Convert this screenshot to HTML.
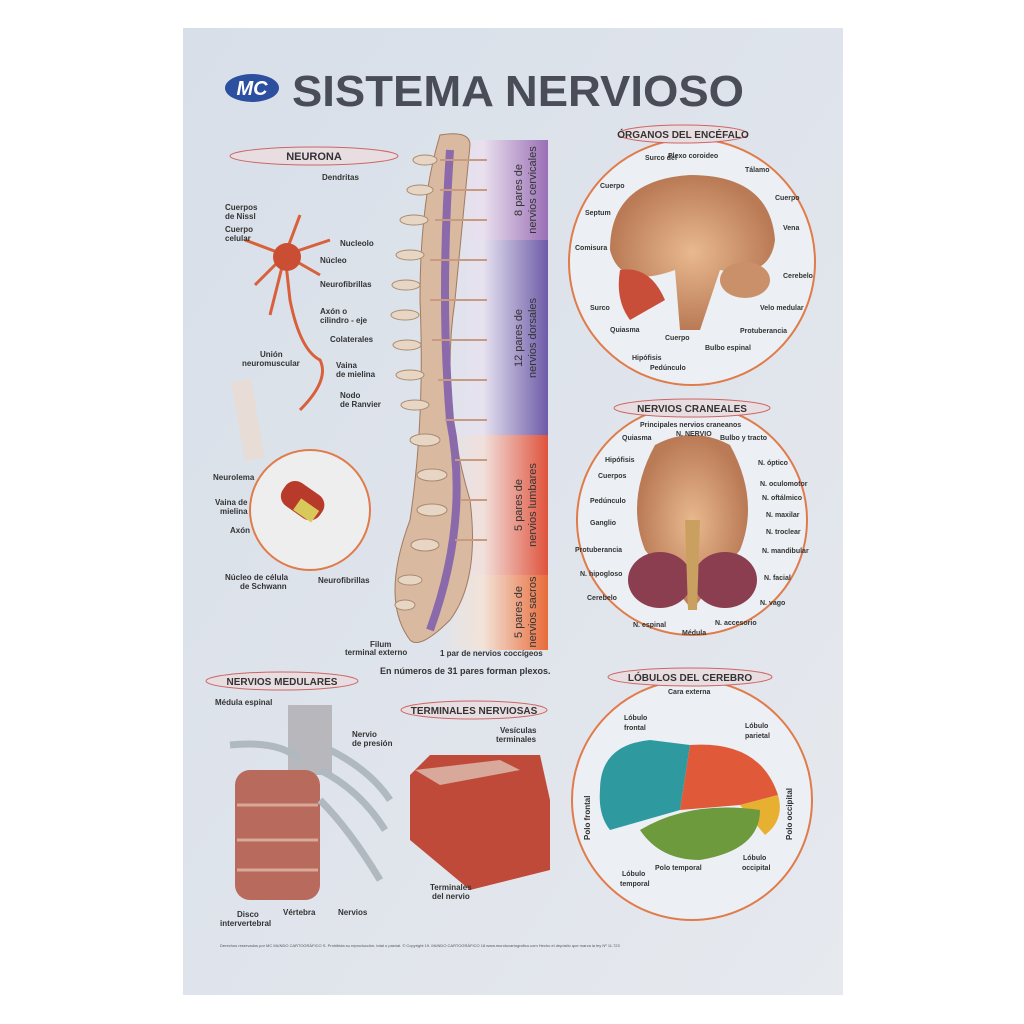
<!DOCTYPE html>
<html><head><meta charset="utf-8"><style>
body{margin:0;width:1024px;height:1024px;background:#fff;overflow:hidden;font-family:"Liberation Sans",sans-serif}
svg{display:block}
</style></head><body>
<svg width="1024" height="1024" viewBox="0 0 1024 1024" font-family="Liberation Sans, sans-serif">
<defs>
<linearGradient id="bg" x1="0" y1="0" x2="1" y2="1"><stop offset="0" stop-color="#d8dfe9"/><stop offset="1" stop-color="#e6e9ee"/></linearGradient>
<linearGradient id="cerv" x1="0" x2="1"><stop offset="0" stop-color="#e9e0ee" stop-opacity="0"/><stop offset=".4" stop-color="#e9e0ee"/><stop offset="1" stop-color="#9a6fb6"/></linearGradient>
<linearGradient id="dors" x1="0" x2="1"><stop offset="0" stop-color="#e6e2ef" stop-opacity="0"/><stop offset=".4" stop-color="#e6e2ef"/><stop offset="1" stop-color="#6d5ba8"/></linearGradient>
<linearGradient id="lumb" x1="0" x2="1"><stop offset="0" stop-color="#f1e0dc" stop-opacity="0"/><stop offset=".4" stop-color="#f1e0dc"/><stop offset="1" stop-color="#e0533c"/></linearGradient>
<linearGradient id="sacr" x1="0" x2="1"><stop offset="0" stop-color="#f2e3d8" stop-opacity="0"/><stop offset=".4" stop-color="#f2e3d8"/><stop offset="1" stop-color="#e86b3a"/></linearGradient>
<radialGradient id="brain" cx=".5" cy=".5" r=".5"><stop offset="0" stop-color="#e9b98e"/><stop offset="1" stop-color="#b97a55"/></radialGradient>
</defs>
<rect x="183" y="28" width="660" height="967" fill="url(#bg)"/>
<!-- logo -->
<ellipse cx="252" cy="88" rx="27" ry="14" fill="#2d4fa0"/>
<text x="252" y="95" font-size="20" font-weight="bold" fill="#fff" text-anchor="middle" font-style="italic">MC</text>
<text x="292" y="106" font-size="44" font-weight="bold" fill="#4a4d57" textLength="452" lengthAdjust="spacingAndGlyphs">SISTEMA NERVIOSO</text>
<!-- neuron -->
<g stroke="#d8603a" stroke-width="3" fill="none">
<path d="M285 255 L245 240 M285 255 L255 285 M285 255 L270 315 M285 255 L300 215 M285 255 L330 240 M285 255 L320 275 M285 255 L290 300 Q300 350 320 360 Q330 380 300 410"/>
</g>
<circle cx="287" cy="257" r="14" fill="#c94e33"/>
<rect x="238" y="380" width="20" height="80" fill="#e8dcd6" transform="rotate(-10 248 420)"/>
<circle cx="310" cy="510" r="60" fill="#eee" stroke="#e07b4a" stroke-width="2"/>
<rect x="280" y="485" width="45" height="28" rx="12" fill="#b83a2a" transform="rotate(35 300 500)"/>
<rect x="300" y="498" width="22" height="14" fill="#d8c95a" transform="rotate(35 300 500)"/>
<g font-size="8" font-weight="bold" fill="#333">
<text x="322" y="180">Dendritas</text><text x="225" y="210">Cuerpos</text><text x="225" y="219">de Nissl</text>
<text x="225" y="232">Cuerpo</text><text x="225" y="241">celular</text><text x="340" y="246">Nucleolo</text>
<text x="320" y="263">Núcleo</text><text x="320" y="287">Neurofibrillas</text><text x="320" y="314">Axón o</text><text x="320" y="323">cilindro - eje</text>
<text x="330" y="342">Colaterales</text><text x="260" y="357">Unión</text><text x="242" y="366">neuromuscular</text>
<text x="336" y="368">Vaina</text><text x="336" y="377">de mielina</text><text x="340" y="398">Nodo</text><text x="340" y="407">de Ranvier</text>
<text x="213" y="480">Neurolema</text><text x="215" y="505">Vaina de</text><text x="220" y="514">mielina</text><text x="230" y="533">Axón</text>
<text x="225" y="580">Núcleo de célula</text><text x="240" y="589">de Schwann</text><text x="318" y="583">Neurofibrillas</text>
</g>
<!-- spine bands -->
<rect x="440" y="140" width="108" height="100" fill="url(#cerv)"/>
<rect x="440" y="240" width="108" height="195" fill="url(#dors)"/>
<rect x="440" y="435" width="108" height="140" fill="url(#lumb)"/>
<rect x="440" y="575" width="108" height="75" fill="url(#sacr)"/>
<path d="M440 135 Q470 130 470 145 L455 300 Q440 400 470 500 Q480 580 450 620 Q420 650 410 640 Q380 600 410 520 Q425 420 420 300 Q420 200 440 135Z" fill="#d9b9a0" stroke="#a07a60"/>
<g fill="#e8d6c4" stroke="#a88a70">
<ellipse cx="425" cy="160" rx="12" ry="5"/><ellipse cx="420" cy="190" rx="13" ry="5"/><ellipse cx="414" cy="220" rx="14" ry="5"/>
<ellipse cx="410" cy="255" rx="14" ry="5"/><ellipse cx="406" cy="285" rx="14" ry="5"/><ellipse cx="405" cy="315" rx="14" ry="5"/><ellipse cx="407" cy="345" rx="14" ry="5"/><ellipse cx="410" cy="375" rx="14" ry="5"/><ellipse cx="415" cy="405" rx="14" ry="5"/>
<ellipse cx="425" cy="440" rx="15" ry="6"/><ellipse cx="432" cy="475" rx="15" ry="6"/><ellipse cx="432" cy="510" rx="15" ry="6"/><ellipse cx="425" cy="545" rx="14" ry="6"/>
<ellipse cx="410" cy="580" rx="12" ry="5"/><ellipse cx="405" cy="605" rx="10" ry="5"/>
</g>
<path d="M450 150 Q440 300 450 420 Q470 520 430 630" stroke="#8a6aaa" stroke-width="8" fill="none"/>
<g stroke="#c89a80" stroke-width="2">
<line x1="440" y1="160" x2="487" y2="160"/><line x1="440" y1="190" x2="487" y2="190"/><line x1="435" y1="220" x2="487" y2="220"/>
<line x1="430" y1="260" x2="487" y2="260"/><line x1="430" y1="300" x2="487" y2="300"/><line x1="432" y1="340" x2="487" y2="340"/><line x1="438" y1="380" x2="487" y2="380"/><line x1="445" y1="420" x2="487" y2="420"/>
<line x1="455" y1="460" x2="487" y2="460"/><line x1="460" y1="500" x2="487" y2="500"/><line x1="455" y1="540" x2="487" y2="540"/>
</g>
<g font-size="11" fill="#333" text-anchor="middle">
<text transform="translate(522 190) rotate(-90)">8 pares de</text><text transform="translate(536 190) rotate(-90)">nervios cervicales</text>
<text transform="translate(522 338) rotate(-90)">12 pares de</text><text transform="translate(536 338) rotate(-90)">nervios dorsales</text>
<text transform="translate(522 505) rotate(-90)">5 pares de</text><text transform="translate(536 505) rotate(-90)">nervios lumbares</text>
<text transform="translate(522 612) rotate(-90)">5 pares de</text><text transform="translate(536 612) rotate(-90)">nervios sacros</text>
</g>
<g font-size="8" font-weight="bold" fill="#333"><text x="370" y="647">Filum</text><text x="345" y="655">terminal externo</text>
<text x="440" y="656">1 par de nervios coccígeos</text></g>
<text x="380" y="674" font-size="9" font-weight="bold" fill="#333">En números de 31 pares forman plexos.</text>
<!-- circles right -->
<circle cx="692" cy="262" r="123" fill="#eceff3" stroke="#e07b4a" stroke-width="2"/>
<path d="M610 250 Q610 180 690 175 Q770 175 775 240 Q770 280 720 270 L700 330 L680 330 L675 270 Q620 290 610 250Z" fill="url(#brain)"/>
<path d="M620 270 Q650 265 665 300 L630 320 Q615 300 620 270Z" fill="#c94e3a"/>
<ellipse cx="745" cy="280" rx="25" ry="18" fill="#c9906a"/>
<circle cx="692" cy="520" r="115" fill="#eceff3" stroke="#e07b4a" stroke-width="2"/>
<path d="M655 445 Q692 425 730 445 Q760 500 740 550 L692 610 L645 550 Q625 500 655 445Z" fill="url(#brain)"/>
<ellipse cx="660" cy="580" rx="32" ry="28" fill="#8a3e50"/><ellipse cx="725" cy="580" rx="32" ry="28" fill="#8a3e50"/>
<path d="M685 520 L700 520 L697 610 L688 610Z" fill="#c9a060"/>
<circle cx="692" cy="800" r="120" fill="#eceff3" stroke="#e07b4a" stroke-width="2"/>
<path d="M600 790 Q600 745 650 740 L690 745 L680 810 L610 830 Q598 815 600 790Z" fill="#2e9aa0"/>
<path d="M690 745 Q760 740 778 795 L740 805 L680 810Z" fill="#e05a3a"/>
<path d="M740 805 L778 795 Q785 820 765 835 Z" fill="#e8b030"/>
<path d="M640 830 Q690 800 760 810 Q760 850 700 860 Q660 860 640 830Z" fill="#6c9a3c"/>
<g font-size="7" fill="#333" font-weight="bold">
<text x="645" y="160">Surco del</text><text x="668" y="158">Plexo coroideo</text><text x="745" y="172">Tálamo</text><text x="600" y="188">Cuerpo</text><text x="585" y="215">Septum</text>
<text x="575" y="250">Comisura</text><text x="775" y="200">Cuerpo</text><text x="783" y="230">Vena</text><text x="783" y="278">Cerebelo</text><text x="760" y="310">Velo medular</text>
<text x="590" y="310">Surco</text><text x="610" y="332">Quiasma</text><text x="665" y="340">Cuerpo</text><text x="705" y="350">Bulbo espinal</text><text x="740" y="333">Protuberancia</text>
<text x="632" y="360">Hipófisis</text><text x="650" y="370">Pedúnculo</text>
<text x="640" y="427">Principales nervios craneanos</text><text x="676" y="436">N. NERVIO</text>
<text x="622" y="440">Quiasma</text><text x="720" y="440">Bulbo y tracto</text><text x="605" y="462">Hipófisis</text><text x="758" y="465">N. óptico</text>
<text x="598" y="478">Cuerpos</text><text x="760" y="486">N. oculomotor</text><text x="762" y="500">N. oftálmico</text><text x="590" y="503">Pedúnculo</text>
<text x="766" y="517">N. maxilar</text><text x="590" y="525">Ganglio</text><text x="766" y="534">N. troclear</text><text x="575" y="552">Protuberancia</text>
<text x="762" y="553">N. mandibular</text><text x="580" y="576">N. hipogloso</text><text x="764" y="580">N. facial</text><text x="587" y="600">Cerebelo</text>
<text x="760" y="605">N. vago</text><text x="633" y="627">N. espinal</text><text x="715" y="625">N. accesorio</text><text x="682" y="635">Médula</text>
<text x="668" y="694">Cara externa</text><text x="624" y="720">Lóbulo</text><text x="624" y="730">frontal</text><text x="745" y="728">Lóbulo</text><text x="745" y="738">parietal</text>
<text x="655" y="870">Polo temporal</text><text x="622" y="876">Lóbulo</text><text x="620" y="886">temporal</text><text x="743" y="860">Lóbulo</text><text x="742" y="870">occipital</text>
</g>
<text transform="translate(590 840) rotate(-90)" font-size="8" font-weight="bold" fill="#333">Polo frontal</text>
<text transform="translate(792 840) rotate(-90)" font-size="8" font-weight="bold" fill="#333">Polo occipital</text>
<!-- bottom left -->
<rect x="288" y="705" width="44" height="70" fill="#b8b8bc"/>
<rect x="235" y="770" width="85" height="130" rx="15" fill="#b86a5c"/>
<g stroke="#d8a898" stroke-width="3"><line x1="237" y1="805" x2="318" y2="805"/><line x1="237" y1="840" x2="318" y2="840"/><line x1="237" y1="870" x2="318" y2="870"/></g>
<g stroke="#b0b8c0" stroke-width="7" fill="none"><path d="M320 770 Q360 790 385 830"/><path d="M320 800 Q350 830 380 880"/><path d="M230 745 Q280 740 300 760"/><path d="M330 750 Q370 770 390 800"/></g>
<g font-size="8" font-weight="bold" fill="#333"><text x="215" y="705">Médula espinal</text><text x="352" y="737">Nervio</text><text x="352" y="746">de presión</text>
<text x="237" y="917">Disco</text><text x="220" y="926">intervertebral</text><text x="283" y="915">Vértebra</text><text x="338" y="915">Nervios</text></g>
<!-- terminales -->
<path d="M410 775 L430 755 L540 755 L550 800 L550 870 L470 890 L410 840Z" fill="#c04a3a"/>
<path d="M415 770 L500 760 L520 770 L440 785Z" fill="#d8a89a"/>
<g font-size="8" font-weight="bold" fill="#333"><text x="500" y="733">Vesículas</text><text x="496" y="742">terminales</text><text x="430" y="890">Terminales</text><text x="432" y="899">del nervio</text></g>
<text x="220" y="947" font-size="4" fill="#555">Derechos reservados por MC MUNDO CARTOGRÁFICO S. Prohibida su reproducción, total o parcial. © Copyright 19. MUNDO CARTOGRÁFICO 18  www.mundocartografico.com  Hecho el depósito que marca la ley Nº 11.723</text>
<!-- headers on top -->
<g font-size="11" font-weight="bold" fill="#333" text-anchor="middle">
<ellipse cx="314" cy="156" rx="84" ry="9" fill="#e8dde0" stroke="#c66" stroke-width="1"/><text x="314" y="160">NEURONA</text>
<ellipse cx="683" cy="134" rx="65" ry="9" fill="#e8dde0" stroke="#c66"/><text x="683" y="138" font-size="10">ÓRGANOS DEL ENCÉFALO</text>
<ellipse cx="692" cy="408" rx="78" ry="9" fill="#e8dde0" stroke="#c66"/><text x="692" y="412" font-size="10">NERVIOS CRANEALES</text>
<ellipse cx="690" cy="677" rx="82" ry="9" fill="#e8dde0" stroke="#c66"/><text x="690" y="681" font-size="10">LÓBULOS DEL CEREBRO</text>
<ellipse cx="282" cy="681" rx="76" ry="9" fill="#e8dde0" stroke="#c66"/><text x="282" y="685" font-size="10">NERVIOS MEDULARES</text>
<ellipse cx="474" cy="710" rx="73" ry="9" fill="#e8dde0" stroke="#c66"/><text x="474" y="714" font-size="10">TERMINALES NERVIOSAS</text>
</g>
</svg>
</body></html>
